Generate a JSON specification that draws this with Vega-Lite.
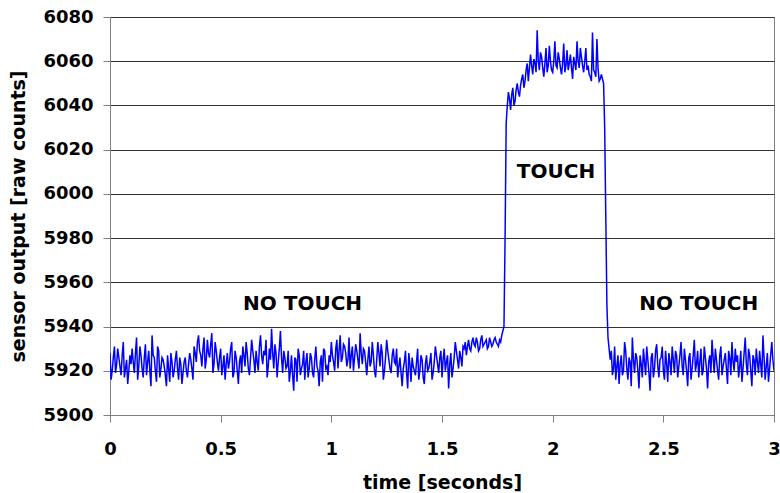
{
  "$schema": "https://vega.github.io/schema/vega-lite/v6.json",
  "width": 664,
  "height": 398,
  "autosize": "none",
  "padding": {"left": 110, "top": 17, "right": 6, "bottom": 78},
  "config": {
    "font": "DejaVu Sans",
    "view": {"stroke": "#808080", "strokeWidth": 1},
    "axis": {
      "labelFont": "DejaVu Sans", "labelFontWeight": "bold", "labelFontSize": 18, "labelColor": "#000",
      "titleFont": "DejaVu Sans", "titleFontWeight": "bold", "titleFontSize": 19, "titleColor": "#000",
      "domainColor": "#808080", "tickColor": "#808080", "gridColor": "#333", "gridWidth": 1
    }
  },
  "datasets": {
    "sig": [
      {"t":0.00,"v":5928},{"t":0.01,"v":5920},{"t":0.02,"v":5931},{"t":0.03,"v":5923},{"t":0.04,"v":5926},{"t":0.05,"v":5918},{"t":0.06,"v":5933},{"t":0.07,"v":5921},{"t":0.08,"v":5914},{"t":0.09,"v":5927},
      {"t":0.10,"v":5930},{"t":0.11,"v":5919},{"t":0.12,"v":5935},{"t":0.13,"v":5922},{"t":0.14,"v":5927},{"t":0.15,"v":5917},{"t":0.16,"v":5932},{"t":0.17,"v":5924},{"t":0.18,"v":5920},{"t":0.19,"v":5936},
      {"t":0.20,"v":5926},{"t":0.21,"v":5915},{"t":0.22,"v":5929},{"t":0.23,"v":5921},{"t":0.24,"v":5925},{"t":0.25,"v":5918},{"t":0.26,"v":5927},{"t":0.27,"v":5915},{"t":0.28,"v":5924},{"t":0.29,"v":5920},
      {"t":0.30,"v":5929},{"t":0.31,"v":5916},{"t":0.32,"v":5923},{"t":0.33,"v":5919},{"t":0.34,"v":5926},{"t":0.35,"v":5917},{"t":0.36,"v":5928},{"t":0.37,"v":5921},{"t":0.38,"v":5931},{"t":0.39,"v":5924},
      {"t":0.40,"v":5936},{"t":0.41,"v":5927},{"t":0.42,"v":5930},{"t":0.43,"v":5921},{"t":0.44,"v":5934},{"t":0.45,"v":5926},{"t":0.46,"v":5937},{"t":0.47,"v":5923},{"t":0.48,"v":5929},{"t":0.49,"v":5920},
      {"t":0.50,"v":5930},{"t":0.51,"v":5922},{"t":0.52,"v":5916},{"t":0.53,"v":5928},{"t":0.54,"v":5924},{"t":0.55,"v":5933},{"t":0.56,"v":5919},{"t":0.57,"v":5926},{"t":0.58,"v":5914},{"t":0.59,"v":5927},
      {"t":0.60,"v":5931},{"t":0.61,"v":5922},{"t":0.62,"v":5928},{"t":0.63,"v":5918},{"t":0.64,"v":5934},{"t":0.65,"v":5925},{"t":0.66,"v":5929},{"t":0.67,"v":5920},{"t":0.68,"v":5936},{"t":0.69,"v":5923},
      {"t":0.70,"v":5927},{"t":0.71,"v":5917},{"t":0.72,"v":5930},{"t":0.73,"v":5939},{"t":0.74,"v":5921},{"t":0.75,"v":5928},{"t":0.76,"v":5924},{"t":0.77,"v":5938},{"t":0.78,"v":5919},{"t":0.79,"v":5926},
      {"t":0.80,"v":5922},{"t":0.81,"v":5915},{"t":0.82,"v":5927},{"t":0.83,"v":5911},{"t":0.84,"v":5925},{"t":0.85,"v":5930},{"t":0.86,"v":5918},{"t":0.87,"v":5923},{"t":0.88,"v":5916},{"t":0.89,"v":5928},
      {"t":0.90,"v":5921},{"t":0.91,"v":5926},{"t":0.92,"v":5917},{"t":0.93,"v":5931},{"t":0.94,"v":5920},{"t":0.95,"v":5924},{"t":0.96,"v":5915},{"t":0.97,"v":5929},{"t":0.98,"v":5922},{"t":0.99,"v":5927},
      {"t":1.00,"v":5933},{"t":1.01,"v":5924},{"t":1.02,"v":5930},{"t":1.03,"v":5921},{"t":1.04,"v":5936},{"t":1.05,"v":5926},{"t":1.06,"v":5931},{"t":1.07,"v":5922},{"t":1.08,"v":5935},{"t":1.09,"v":5927},
      {"t":1.10,"v":5920},{"t":1.11,"v":5932},{"t":1.12,"v":5925},{"t":1.13,"v":5937},{"t":1.14,"v":5923},{"t":1.15,"v":5929},{"t":1.16,"v":5918},{"t":1.17,"v":5931},{"t":1.18,"v":5924},{"t":1.19,"v":5927},
      {"t":1.20,"v":5917},{"t":1.21,"v":5933},{"t":1.22,"v":5922},{"t":1.23,"v":5928},{"t":1.24,"v":5920},{"t":1.25,"v":5934},{"t":1.26,"v":5925},{"t":1.27,"v":5919},{"t":1.28,"v":5930},{"t":1.29,"v":5923},
      {"t":1.30,"v":5917},{"t":1.31,"v":5926},{"t":1.32,"v":5913},{"t":1.33,"v":5924},{"t":1.34,"v":5919},{"t":1.35,"v":5928},{"t":1.36,"v":5915},{"t":1.37,"v":5922},{"t":1.38,"v":5918},{"t":1.39,"v":5930},
      {"t":1.40,"v":5920},{"t":1.41,"v":5925},{"t":1.42,"v":5914},{"t":1.43,"v":5927},{"t":1.44,"v":5921},{"t":1.45,"v":5928},{"t":1.46,"v":5919},{"t":1.47,"v":5931},{"t":1.48,"v":5923},{"t":1.49,"v":5926},
      {"t":1.50,"v":5917},{"t":1.51,"v":5930},{"t":1.52,"v":5924},{"t":1.53,"v":5912},{"t":1.54,"v":5928},{"t":1.55,"v":5921},{"t":1.56,"v":5933},{"t":1.57,"v":5925},{"t":1.58,"v":5929},{"t":1.59,"v":5922},
      {"t":1.60,"v":5930},{"t":1.61,"v":5927},{"t":1.62,"v":5934},{"t":1.63,"v":5929},{"t":1.64,"v":5935},{"t":1.65,"v":5931},{"t":1.66,"v":5933},{"t":1.67,"v":5930},{"t":1.68,"v":5936},{"t":1.69,"v":5932},
      {"t":1.70,"v":5934},{"t":1.71,"v":5931},{"t":1.72,"v":5933},{"t":1.73,"v":5932},{"t":1.74,"v":5935},{"t":1.75,"v":5932},{"t":1.76,"v":5934},{"t":1.77,"v":5936},
      {"t":1.78,"v":5940},{"t":1.785,"v":5980},{"t":1.79,"v":6032},{"t":1.795,"v":6040},{"t":1.80,"v":6046},
      {"t":1.81,"v":6038},{"t":1.82,"v":6048},{"t":1.83,"v":6042},{"t":1.84,"v":6050},{"t":1.85,"v":6044},{"t":1.86,"v":6052},{"t":1.87,"v":6048},{"t":1.88,"v":6056},{"t":1.89,"v":6051},
      {"t":1.90,"v":6063},{"t":1.91,"v":6054},{"t":1.92,"v":6059},{"t":1.93,"v":6074},{"t":1.94,"v":6056},{"t":1.95,"v":6062},{"t":1.96,"v":6053},{"t":1.97,"v":6066},{"t":1.98,"v":6058},{"t":1.99,"v":6060},
      {"t":2.00,"v":6055},{"t":2.01,"v":6069},{"t":2.02,"v":6057},{"t":2.03,"v":6061},{"t":2.04,"v":6054},{"t":2.05,"v":6068},{"t":2.06,"v":6058},{"t":2.07,"v":6056},{"t":2.08,"v":6063},{"t":2.09,"v":6052},
      {"t":2.10,"v":6059},{"t":2.11,"v":6069},{"t":2.12,"v":6057},{"t":2.13,"v":6062},{"t":2.14,"v":6055},{"t":2.15,"v":6066},{"t":2.16,"v":6058},{"t":2.17,"v":6053},{"t":2.18,"v":6073},{"t":2.19,"v":6055},
      {"t":2.20,"v":6070},{"t":2.21,"v":6051},{"t":2.22,"v":6054},{"t":2.225,"v":6052},{"t":2.23,"v":6050},{"t":2.235,"v":6030},{"t":2.24,"v":5990},{"t":2.245,"v":5950},{"t":2.25,"v":5935},{"t":2.255,"v":5930},
      {"t":2.26,"v":5925},{"t":2.27,"v":5918},{"t":2.28,"v":5931},{"t":2.29,"v":5922},{"t":2.30,"v":5914},{"t":2.31,"v":5927},{"t":2.32,"v":5920},{"t":2.33,"v":5929},{"t":2.34,"v":5916},{"t":2.35,"v":5924},
      {"t":2.36,"v":5935},{"t":2.37,"v":5919},{"t":2.38,"v":5926},{"t":2.39,"v":5912},{"t":2.40,"v":5923},{"t":2.41,"v":5930},{"t":2.42,"v":5918},{"t":2.43,"v":5925},{"t":2.44,"v":5911},{"t":2.45,"v":5928},
      {"t":2.46,"v":5921},{"t":2.47,"v":5932},{"t":2.48,"v":5917},{"t":2.49,"v":5926},{"t":2.50,"v":5920},{"t":2.51,"v":5929},{"t":2.52,"v":5915},{"t":2.53,"v":5924},{"t":2.54,"v":5931},{"t":2.55,"v":5919},
      {"t":2.56,"v":5927},{"t":2.57,"v":5922},{"t":2.58,"v":5933},{"t":2.59,"v":5918},{"t":2.60,"v":5925},{"t":2.61,"v":5913},{"t":2.62,"v":5928},{"t":2.63,"v":5921},{"t":2.64,"v":5934},{"t":2.65,"v":5923},
      {"t":2.66,"v":5917},{"t":2.67,"v":5930},{"t":2.68,"v":5920},{"t":2.69,"v":5926},{"t":2.70,"v":5912},{"t":2.71,"v":5927},{"t":2.72,"v":5934},{"t":2.73,"v":5919},{"t":2.74,"v":5925},{"t":2.75,"v":5916},
      {"t":2.76,"v":5931},{"t":2.77,"v":5922},{"t":2.78,"v":5928},{"t":2.79,"v":5914},{"t":2.80,"v":5926},{"t":2.81,"v":5933},{"t":2.82,"v":5920},{"t":2.83,"v":5924},{"t":2.84,"v":5917},{"t":2.85,"v":5929},
      {"t":2.86,"v":5921},{"t":2.87,"v":5935},{"t":2.88,"v":5918},{"t":2.89,"v":5927},{"t":2.90,"v":5913},{"t":2.91,"v":5925},{"t":2.92,"v":5930},{"t":2.93,"v":5919},{"t":2.94,"v":5923},{"t":2.95,"v":5936},
      {"t":2.96,"v":5916},{"t":2.97,"v":5928},{"t":2.98,"v":5921},{"t":2.99,"v":5933},{"t":3.00,"v":5920},

      {"t":0.005,"v":5916},{"t":0.015,"v":5926},{"t":0.025,"v":5919},{"t":0.035,"v":5930},{"t":0.045,"v":5922},{"t":0.055,"v":5927},{"t":0.065,"v":5917},{"t":0.075,"v":5925},{"t":0.085,"v":5920},{"t":0.095,"v":5923},
      {"t":0.105,"v":5924},{"t":0.115,"v":5928},{"t":0.125,"v":5916},{"t":0.135,"v":5931},{"t":0.145,"v":5921},{"t":0.155,"v":5926},{"t":0.165,"v":5918},{"t":0.175,"v":5929},{"t":0.185,"v":5913},{"t":0.195,"v":5927},
      {"t":0.205,"v":5920},{"t":0.215,"v":5931},{"t":0.225,"v":5917},{"t":0.235,"v":5926},{"t":0.245,"v":5922},{"t":0.255,"v":5913},{"t":0.265,"v":5921},{"t":0.275,"v":5928},{"t":0.285,"v":5917},{"t":0.295,"v":5925},
      {"t":0.305,"v":5921},{"t":0.315,"v":5926},{"t":0.325,"v":5914},{"t":0.335,"v":5924},{"t":0.345,"v":5920},{"t":0.355,"v":5923},{"t":0.365,"v":5925},{"t":0.375,"v":5916},{"t":0.385,"v":5928},{"t":0.395,"v":5933},
      {"t":0.405,"v":5929},{"t":0.415,"v":5922},{"t":0.425,"v":5935},{"t":0.435,"v":5925},{"t":0.445,"v":5928},{"t":0.455,"v":5932},{"t":0.465,"v":5919},{"t":0.475,"v":5933},{"t":0.485,"v":5924},{"t":0.495,"v":5926},
      {"t":0.505,"v":5918},{"t":0.515,"v":5927},{"t":0.525,"v":5923},{"t":0.535,"v":5921},{"t":0.545,"v":5930},{"t":0.555,"v":5917},{"t":0.565,"v":5929},{"t":0.575,"v":5920},{"t":0.585,"v":5924},{"t":0.595,"v":5919},
      {"t":0.605,"v":5927},{"t":0.615,"v":5933},{"t":0.625,"v":5921},{"t":0.635,"v":5926},{"t":0.645,"v":5929},{"t":0.655,"v":5919},{"t":0.665,"v":5924},{"t":0.675,"v":5931},{"t":0.685,"v":5927},{"t":0.695,"v":5929},
      {"t":0.705,"v":5934},{"t":0.715,"v":5922},{"t":0.725,"v":5925},{"t":0.735,"v":5928},{"t":0.745,"v":5932},{"t":0.755,"v":5917},{"t":0.765,"v":5930},{"t":0.775,"v":5926},{"t":0.785,"v":5929},{"t":0.795,"v":5921},
      {"t":0.805,"v":5929},{"t":0.815,"v":5920},{"t":0.825,"v":5918},{"t":0.835,"v":5926},{"t":0.845,"v":5915},{"t":0.855,"v":5927},{"t":0.865,"v":5921},{"t":0.875,"v":5929},{"t":0.885,"v":5924},{"t":0.895,"v":5917},
      {"t":0.905,"v":5928},{"t":0.915,"v":5919},{"t":0.925,"v":5925},{"t":0.935,"v":5922},{"t":0.945,"v":5913},{"t":0.955,"v":5927},{"t":0.965,"v":5930},{"t":0.975,"v":5921},{"t":0.985,"v":5918},{"t":0.995,"v":5924},
      {"t":1.005,"v":5927},{"t":1.015,"v":5920},{"t":1.025,"v":5934},{"t":1.035,"v":5929},{"t":1.045,"v":5924},{"t":1.055,"v":5932},{"t":1.065,"v":5928},{"t":1.075,"v":5925},{"t":1.085,"v":5921},{"t":1.095,"v":5931},
      {"t":1.105,"v":5926},{"t":1.115,"v":5929},{"t":1.125,"v":5921},{"t":1.135,"v":5928},{"t":1.145,"v":5930},{"t":1.155,"v":5924},{"t":1.165,"v":5925},{"t":1.175,"v":5922},{"t":1.185,"v":5933},{"t":1.195,"v":5920},
      {"t":1.205,"v":5925},{"t":1.215,"v":5928},{"t":1.225,"v":5932},{"t":1.235,"v":5916},{"t":1.245,"v":5926},{"t":1.255,"v":5929},{"t":1.265,"v":5921},{"t":1.275,"v":5927},{"t":1.285,"v":5924},{"t":1.295,"v":5930},
      {"t":1.305,"v":5922},{"t":1.315,"v":5919},{"t":1.325,"v":5921},{"t":1.335,"v":5929},{"t":1.345,"v":5912},{"t":1.355,"v":5923},{"t":1.365,"v":5926},{"t":1.375,"v":5920},{"t":1.385,"v":5924},{"t":1.395,"v":5916},
      {"t":1.405,"v":5927},{"t":1.415,"v":5917},{"t":1.425,"v":5923},{"t":1.435,"v":5920},{"t":1.445,"v":5924},{"t":1.455,"v":5916},{"t":1.465,"v":5924},{"t":1.475,"v":5927},{"t":1.485,"v":5919},{"t":1.495,"v":5929},
      {"t":1.505,"v":5925},{"t":1.515,"v":5920},{"t":1.525,"v":5927},{"t":1.535,"v":5923},{"t":1.545,"v":5917},{"t":1.555,"v":5926},{"t":1.565,"v":5929},{"t":1.575,"v":5921},{"t":1.585,"v":5926},{"t":1.595,"v":5931},
      {"t":1.605,"v":5933},{"t":1.615,"v":5931},{"t":1.625,"v":5930},{"t":1.635,"v":5933},{"t":1.645,"v":5932},{"t":1.655,"v":5935},{"t":1.665,"v":5929},{"t":1.675,"v":5934},{"t":1.685,"v":5931},{"t":1.695,"v":5933},
      {"t":1.705,"v":5930},{"t":1.715,"v":5935},{"t":1.725,"v":5931},{"t":1.735,"v":5934},{"t":1.745,"v":5933},{"t":1.755,"v":5931},{"t":1.765,"v":5933},

      {"t":1.805,"v":6043},{"t":1.815,"v":6045},{"t":1.825,"v":6040},{"t":1.835,"v":6047},{"t":1.845,"v":6046},{"t":1.855,"v":6049},{"t":1.865,"v":6054},{"t":1.875,"v":6051},{"t":1.885,"v":6059},{"t":1.895,"v":6057},
      {"t":1.905,"v":6058},{"t":1.915,"v":6061},{"t":1.925,"v":6055},{"t":1.935,"v":6060},{"t":1.945,"v":6064},{"t":1.955,"v":6057},{"t":1.965,"v":6059},{"t":1.975,"v":6055},{"t":1.985,"v":6067},{"t":1.995,"v":6056},
      {"t":2.005,"v":6060},{"t":2.015,"v":6058},{"t":2.025,"v":6064},{"t":2.035,"v":6057},{"t":2.045,"v":6059},{"t":2.055,"v":6055},{"t":2.065,"v":6065},{"t":2.075,"v":6059},{"t":2.085,"v":6057},{"t":2.095,"v":6062},
      {"t":2.105,"v":6056},{"t":2.115,"v":6060},{"t":2.125,"v":6066},{"t":2.135,"v":6058},{"t":2.145,"v":6060},{"t":2.155,"v":6056},{"t":2.165,"v":6054},{"t":2.175,"v":6051},{"t":2.185,"v":6056},{"t":2.195,"v":6053},
      {"t":2.205,"v":6057},{"t":2.215,"v":6052},

      {"t":2.265,"v":5929},{"t":2.275,"v":5921},{"t":2.285,"v":5916},{"t":2.295,"v":5927},{"t":2.305,"v":5923},{"t":2.315,"v":5918},{"t":2.325,"v":5933},{"t":2.335,"v":5921},{"t":2.345,"v":5926},{"t":2.355,"v":5913},
      {"t":2.365,"v":5925},{"t":2.375,"v":5928},{"t":2.385,"v":5920},{"t":2.395,"v":5927},{"t":2.405,"v":5917},{"t":2.415,"v":5924},{"t":2.425,"v":5931},{"t":2.435,"v":5919},{"t":2.445,"v":5926},{"t":2.455,"v":5917},
      {"t":2.465,"v":5929},{"t":2.475,"v":5922},{"t":2.485,"v":5925},{"t":2.495,"v":5931},{"t":2.505,"v":5916},{"t":2.515,"v":5923},{"t":2.525,"v":5928},{"t":2.535,"v":5918},{"t":2.545,"v":5925},{"t":2.555,"v":5929},
      {"t":2.565,"v":5917},{"t":2.575,"v":5927},{"t":2.585,"v":5922},{"t":2.595,"v":5930},{"t":2.605,"v":5920},{"t":2.615,"v":5926},{"t":2.625,"v":5916},{"t":2.635,"v":5927},{"t":2.645,"v":5920},{"t":2.655,"v":5929},
      {"t":2.665,"v":5924},{"t":2.675,"v":5918},{"t":2.685,"v":5931},{"t":2.695,"v":5921},{"t":2.705,"v":5924},{"t":2.715,"v":5919},{"t":2.725,"v":5926},{"t":2.735,"v":5930},{"t":2.745,"v":5920},{"t":2.755,"v":5927},
      {"t":2.765,"v":5918},{"t":2.775,"v":5925},{"t":2.785,"v":5921},{"t":2.795,"v":5929},{"t":2.805,"v":5918},{"t":2.815,"v":5924},{"t":2.825,"v":5930},{"t":2.835,"v":5927},{"t":2.845,"v":5922},{"t":2.855,"v":5915},
      {"t":2.865,"v":5928},{"t":2.875,"v":5923},{"t":2.885,"v":5930},{"t":2.895,"v":5920},{"t":2.905,"v":5927},{"t":2.915,"v":5918},{"t":2.925,"v":5924},{"t":2.935,"v":5929},{"t":2.945,"v":5917},{"t":2.955,"v":5926},
      {"t":2.965,"v":5922},{"t":2.975,"v":5915},{"t":2.985,"v":5927},{"t":2.995,"v":5925}
    ],
    "notes": [
      {"t":0.87,"v":5950,"label":"NO TOUCH"},
      {"t":2.015,"v":6010,"label":"TOUCH"},
      {"t":2.66,"v":5950,"label":"NO TOUCH"}
    ]
  },
  "layer": [
    {
      "data": {"name": "sig"},
      "mark": {"type": "line", "color": "#0000FF", "strokeWidth": 1.5, "clip": true},
      "encoding": {
        "x": {
          "field": "t", "type": "quantitative",
          "scale": {"domain": [0, 3], "nice": false, "zero": false},
          "axis": {
            "title": "time [seconds]", "values": [0, 0.5, 1, 1.5, 2, 2.5, 3], "format": "~g",
            "grid": false, "tickSize": 7, "labelPadding": 18, "titlePadding": 15,
            "labelOverlap": false, "labelFlush": false
          }
        },
        "y": {
          "field": "v", "type": "quantitative",
          "scale": {"domain": [5900, 6080], "nice": false, "zero": false},
          "axis": {
            "title": "sensor output [raw counts]", "values": [5900, 5920, 5940, 5960, 5980, 6000, 6020, 6040, 6060, 6080],
            "format": "d", "grid": true, "tickSize": 7, "labelPadding": 10, "titlePadding": 14,
            "labelOverlap": false, "labelFlush": false
          }
        }
      }
    },
    {
      "data": {"name": "notes"},
      "mark": {"type": "text", "font": "DejaVu Sans", "fontWeight": "bold", "fontSize": 20, "color": "#000", "align": "center", "baseline": "middle"},
      "encoding": {
        "x": {"field": "t", "type": "quantitative"},
        "y": {"field": "v", "type": "quantitative"},
        "text": {"field": "label"}
      }
    }
  ]
}
